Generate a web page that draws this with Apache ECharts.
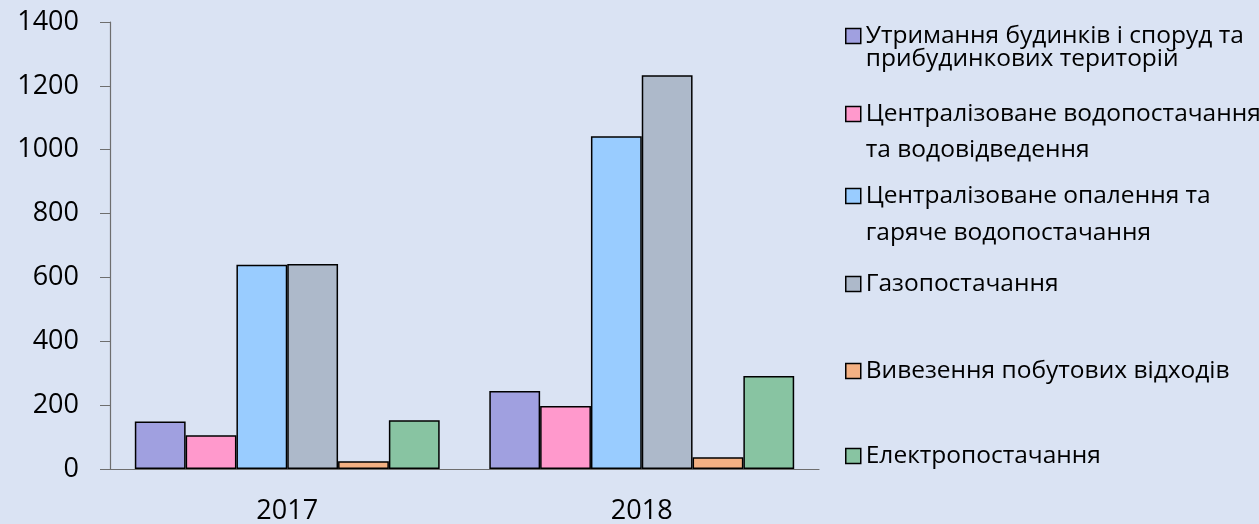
<!DOCTYPE html>
<html>
<head>
<meta charset="utf-8">
<script src="https://cdn.jsdelivr.net/npm/echarts@6/dist/echarts.min.js"></script>
<style>
  html, body { margin: 0; padding: 0; background: #dae3f3; }
  #chart { width: 1259px; height: 524px; }
</style>
</head>
<body>
<div id="chart"></div>
<script>
  // years on the x axis
  var years = ['2017', '2018'];
  // series names (legend text, line breaks as in the picture)
  var names = [
    'Утримання будинків і споруд та\nприбудинкових територій',
    'Централізоване водопостачання\nта водовідведення',
    'Централізоване опалення та\nгаряче водопостачання',
    'Газопостачання',
    'Вивезення побутових відходів',
    'Електропостачання'
  ];
  // values per series: [2017, 2018]
  var housing = [149, 244];
  var water = [106, 197];
  var heating = [640, 1042];
  var gas = [642, 1233];
  var waste = [24, 37];
  var power = [153, 291];
  var yTicks = [0, 200, 400, 600, 800, 1000, 1200, 1400];

  var values = [housing, water, heating, gas, waste, power];
  var colors = ['#a0a0e0', '#ff99cc', '#99ccff', '#adb9ca', '#f4b183', '#88c4a2'];
  var font = '"Open Sans", "Noto Sans", sans-serif';

  var chart = echarts.init(document.getElementById('chart'));

  var series = [];
  for (var i = 0; i < values.length; i++) {
    series.push({
      name: names[i],
      type: 'bar',
      data: values[i],
      barGap: '0%',
      barCategoryGap: '14%',
      itemStyle: { color: colors[i], borderColor: '#000', borderWidth: 1.5 }
    });
  }

  // one legend per item, so the spacing can follow the picture
  var legendCenters = [35, 114, 196, 284, 371, 456];
  var legendLine = [23, 36, 37, 30, 30, 30];
  var legends = [];
  for (var i = 0; i < names.length; i++) {
    var two = names[i].indexOf('\n') >= 0;
    var L = legendLine[i];
    var h = two ? 3 * L : L;
    legends.push({
      data: [names[i]],
      left: 845,
      top: legendCenters[i] - h / 2,
      padding: 0,
      itemWidth: 15,
      itemHeight: 15,
      itemGap: 0,
      icon: 'rect',
      itemStyle: { borderColor: '#000', borderWidth: 1.5 },
      selectedMode: false,
      // empty first line keeps the box beside the first text line
      formatter: two ? function (n) { return '\n' + n; } : '{name}',
      textStyle: {
        fontFamily: font, fontSize: 24.5, color: '#000', lineHeight: L
      }
    });
  }

  var option = {
    backgroundColor: '#dae3f3',
    animation: false,
    legend: legends,
    grid: { left: 110, right: 440, top: 22, bottom: 55, outerBoundsMode: 'none', containLabel: false },
    xAxis: {
      type: 'category',
      data: years,
      axisLine: { lineStyle: { color: '#6e6e6e', width: 1.2 } },
      axisTick: { length: 10, lineStyle: { color: '#6e6e6e' } },
      axisLabel: { fontFamily: font, fontSize: 27, color: '#000', margin: 29 }
    },
    yAxis: {
      type: 'value',
      min: yTicks[0],
      max: yTicks[yTicks.length - 1],
      interval: 200,
      splitLine: { show: false },
      axisLine: { show: true, lineStyle: { color: '#6e6e6e', width: 1.2 } },
      axisTick: { show: true, length: 10, lineStyle: { color: '#6e6e6e' } },
      axisLabel: {
        fontFamily: font, fontSize: 27, color: '#000', margin: 31,
        formatter: function (v) { return String(v); }
      }
    },
    series: series
  };
  chart.setOption(option);
</script>
</body>
</html>
